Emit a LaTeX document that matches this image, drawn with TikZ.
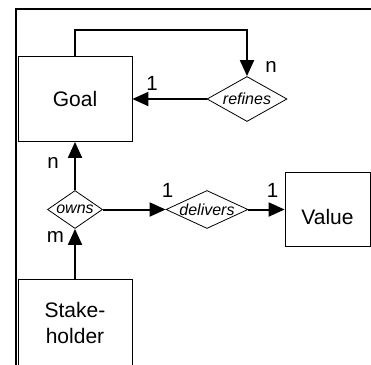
\documentclass[tikz,border=0pt]{standalone}
\usepackage{fontspec}
\setmainfont{Liberation Sans}
\usetikzlibrary{shapes.geometric,arrows.meta}
\begin{document}
\begin{tikzpicture}[x=1pt,y=-1pt,
  entity/.style={draw, line width=0.8pt, inner sep=0pt, font=\fontsize{21}{26}\selectfont, align=center},
  rel/.style={draw, diamond, line width=0.8pt, inner sep=0pt},
  reltext/.style={font=\fontsize{16}{16}\selectfont\itshape, inner sep=0pt},
  card/.style={font=\fontsize{20.5}{20}\selectfont, inner sep=0pt, anchor=base},
  arr/.style={line width=2pt, -{Triangle[length=16pt,width=14pt]}},
  framestyle/.style={line width=2.2pt}
]
\useasboundingbox (0,0) rectangle (371,364);
% frame
\coordinate (fbl) at (16,366);
\coordinate (ftl) at (16,9);
\coordinate (ftr) at (373,9);
\draw[framestyle] (fbl) -- (ftl) -- (ftr);
% entities
\node[entity, minimum width=114pt, minimum height=85pt] (goal) at (75,99) {Goal};
\node[entity, minimum width=114pt, minimum height=88pt] (stake) at (75,323) {Stake-\\holder};
\node[entity, minimum width=85pt, minimum height=74pt, text height=30pt, text depth=0pt] (value) at (327.5,209.5) {Value};
% relationships
\node[rel, minimum width=80pt, minimum height=45pt] (refines) at (247,99) {};
\node[reltext] (refinestext) at (refines) {refines};
\node[rel, minimum width=55pt, minimum height=38pt] (owns) at (75,209.5) {};
\node[reltext] (ownstext) at (owns) {owns};
\node[rel, minimum width=82pt, minimum height=38pt] (delivers) at (207,209.5) {};
\node[reltext] (deliverstext) at (delivers) {delivers};
% connectors
\coordinate (loop) at (247,30);
\draw[arr] (goal.north) |- (loop) -- (refines.north);
\draw[arr] (refines.west) -- (goal.east);
\draw[arr] (owns.north) -- (goal.south);
\draw[arr] (stake.north) -- (owns.south);
\draw[arr] (owns.east) -- (delivers.west);
\draw[arr] (delivers.east) -- (value.west);
% cardinalities
\node[card] (c1) at (271,72) {n};
\node[card] (c2) at (152,90) {1};
\node[card] (c3) at (53,168) {n};
\node[card] (c4) at (55.5,242) {m};
\node[card] (c5) at (167.5,197) {1};
\node[card] (c6) at (272.5,197) {1};
\end{tikzpicture}
\end{document}
